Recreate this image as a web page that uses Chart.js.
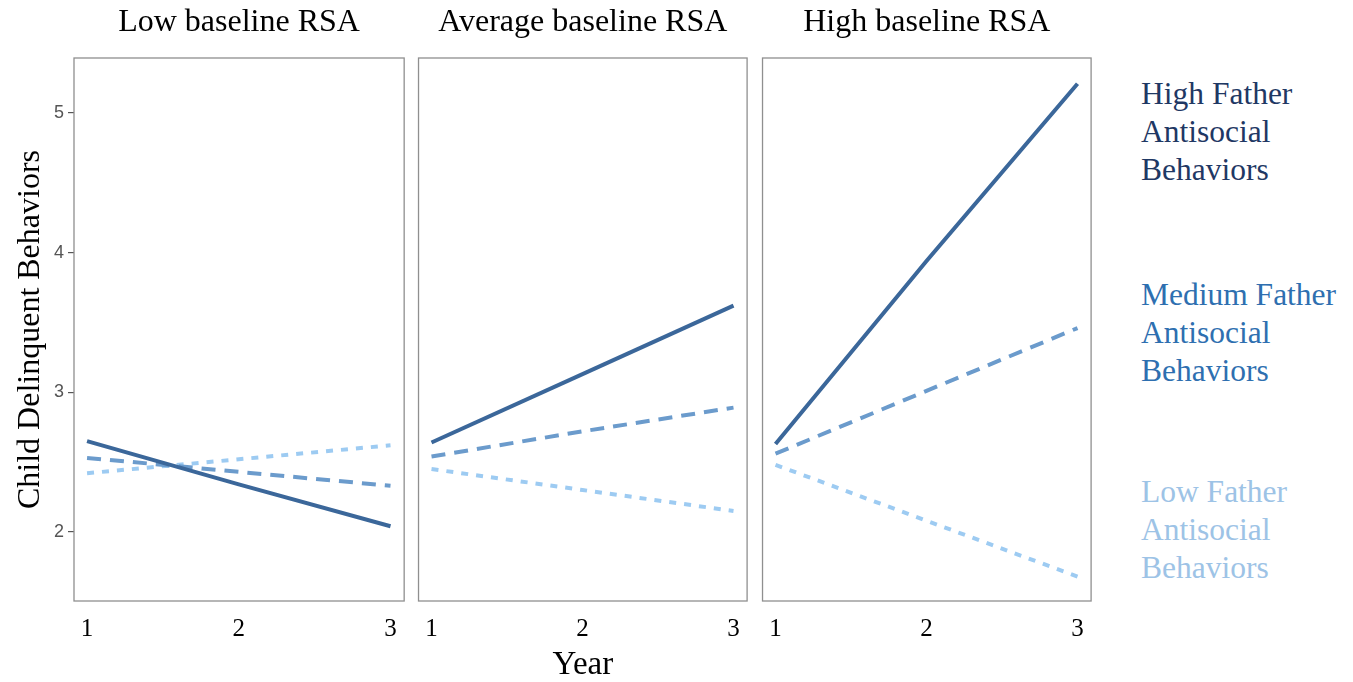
<!DOCTYPE html>
<html>
<head>
<meta charset="utf-8">
<script src="https://cdn.jsdelivr.net/npm/chart.js@4.4.1/dist/chart.umd.min.js"></script>
<style>
  body { margin: 0; background: #fff; width: 1353px; height: 682px; overflow: hidden; position: relative; }
  .panel { position: absolute; top: 0; height: 682px; }
  .legend { position: absolute; left: 1141px; font-family: "Liberation Serif", "Times New Roman", serif; font-size: 31.5px; line-height: 38px; }
</style>
</head>
<body>
<div class="panel" style="left:0;width:410px"><canvas id="p1"></canvas></div>
<div class="panel" style="left:412px;width:341px"><canvas id="p2"></canvas></div>
<div class="panel" style="left:756px;width:341px"><canvas id="p3"></canvas></div>

<div class="legend" style="top:75px;color:#1f3864">High Father<br>Antisocial<br>Behaviors</div>
<div class="legend" style="top:276px;color:#2e6fb0">Medium Father<br>Antisocial<br>Behaviors</div>
<div class="legend" style="top:473px;color:#9dc3e6">Low Father<br>Antisocial<br>Behaviors</div>

<script>
// data
const years = [1, 2, 3];
const yTicks = [2, 3, 4, 5];
const panelTitles = ["Low baseline RSA", "Average baseline RSA", "High baseline RSA"];

// high / medium / low father antisocial behaviors, per panel
const highFather = [
  [2.65, 2.34, 2.04],
  [2.64, 3.13, 3.62],
  [2.63, 3.94, 5.21]
];
const mediumFather = [
  [2.53, 2.43, 2.33],
  [2.54, 2.72, 2.89],
  [2.56, 3.01, 3.46]
];
const lowFather = [
  [2.42, 2.52, 2.62],
  [2.45, 2.30, 2.15],
  [2.48, 2.08, 1.68]
];

const serif = '"Liberation Serif", "Times New Roman", serif';

// frame round each panel
const boxPlugin = {
  id: 'box',
  afterDraw(chart) {
    const a = chart.chartArea, ctx = chart.ctx;
    ctx.save();
    ctx.strokeStyle = '#8f8f8f';
    ctx.lineWidth = 1.3;
    ctx.strokeRect(a.left, a.top, a.right - a.left, a.bottom - a.top);
    ctx.restore();
  }
};

function pts(arr) {
  return years.map((x, i) => ({ x: x, y: arr[i] }));
}

function makePanel(id, i) {
  const first = i === 0;
  const w = first ? 410 : 341;
  const canvas = document.getElementById(id);
  canvas.width = w; canvas.height = 682;
  canvas.style.width = w + 'px'; canvas.style.height = '682px';

  new Chart(canvas, {
    type: 'line',
    data: {
      datasets: [
        { data: pts(highFather[i]), borderColor: '#3b679a', borderWidth: 4 },
        { data: pts(mediumFather[i]), borderColor: '#6b9bcc', borderWidth: 4, borderDash: [14, 9] },
        { data: pts(lowFather[i]), borderColor: '#9dcbf2', borderWidth: 4, borderDash: [7, 8] }
      ]
    },
    options: {
      responsive: false,
      animation: false,
      events: [],
      layout: { padding: { left: first ? 0 : 5, right: 5, top: 0, bottom: 0 } },
      elements: { point: { radius: 0 }, line: { tension: 0, borderCapStyle: 'butt' } },
      plugins: {
        legend: { display: false },
        tooltip: { enabled: false },
        title: {
          display: true,
          text: panelTitles[i],
          fullSize: false,
          color: '#000',
          font: { family: serif, size: 32, weight: 'normal' },
          padding: { top: 3, bottom: 16.6 }
        }
      },
      scales: {
        x: {
          type: 'linear',
          min: 0.914,
          max: 3.09,
          afterBuildTicks: s => { s.ticks = years.map(v => ({ value: v })); },
          afterFit: s => { s.height = 81; },
          grid: { display: false, drawTicks: false },
          border: { display: false },
          ticks: {
            color: '#000',
            padding: 13,
            maxRotation: 0,
            font: { family: serif, size: 25 }
          },
          title: {
            display: i === 1,
            text: 'Year',
            color: '#000',
            font: { family: serif, size: 33 },
            padding: { top: 0, bottom: -3 }
          }
        },
        y: {
          display: first,
          min: 1.505,
          max: 5.394,
          afterBuildTicks: s => { s.ticks = yTicks.map(v => ({ value: v })); },
          afterFit: s => { if (first) s.width = 74; },
          grid: { display: true, drawOnChartArea: false, drawTicks: true, tickLength: 6, color: '#555', lineWidth: 1.2 },
          border: { display: false },
          ticks: {
            color: '#555',
            padding: 4,
            font: { family: '"Liberation Sans", Arial, sans-serif', size: 18 }
          },
          title: {
            display: true,
            text: 'Child Delinquent Behaviors',
            color: '#000',
            font: { family: serif, size: 32 },
            padding: { top: 11, bottom: 0 }
          }
        }
      }
    },
    plugins: [boxPlugin]
  });
}

makePanel('p1', 0);
makePanel('p2', 1);
makePanel('p3', 2);
</script>
</body>
</html>
